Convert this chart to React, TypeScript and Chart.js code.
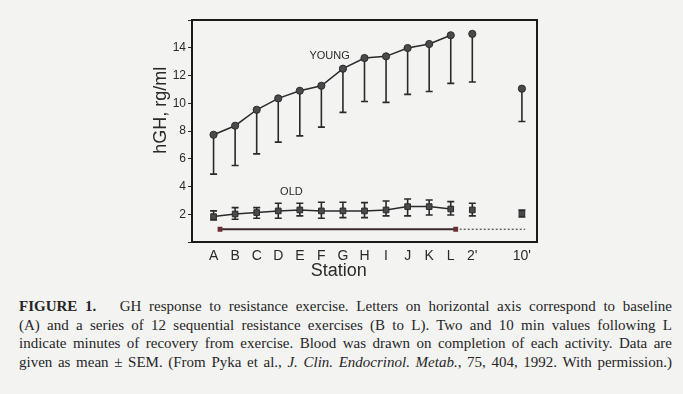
import React, { useEffect, useRef } from 'react';
import { Chart, registerables } from 'chart.js';

Chart.register(...registerables);

// ---- data ----
const stations = ['A', 'B', 'C', 'D', 'E', 'F', 'G', 'H', 'I', 'J', 'K', 'L', "2'", "10'"];
const stationPos = [1, 2, 3, 4, 5, 6, 7, 8, 9, 10, 11, 12, 13, 15.3];
const youngMean = [7.73, 8.38, 9.53, 10.35, 10.9, 11.26, 12.49, 13.26, 13.38, 13.98, 14.27, 14.9, 15.0, 11.05];
const youngLower = [4.89, 5.51, 6.35, 7.2, 7.65, 8.28, 9.34, 10.13, 10.06, 10.64, 10.85, 11.43, 11.53, 8.69];
const oldMean = [1.83, 2.02, 2.12, 2.24, 2.31, 2.24, 2.24, 2.24, 2.31, 2.55, 2.55, 2.38, 2.31, 2.05];
const oldUpper = [2.24, 2.48, 2.48, 2.79, 2.79, 2.87, 2.87, 2.84, 2.96, 3.1, 3.03, 2.91, 2.79, 2.3];
const oldLower = [1.59, 1.64, 1.71, 1.71, 1.88, 1.71, 1.76, 1.76, 1.88, 1.88, 1.95, 1.95, 1.88, 1.8];
const exerciseBarX = [1.3, 12.23];
const recoveryBarX = [12.23, 15.45];
const barLevel = 0.92;
const yTickLabels = [2, 4, 6, 8, 10, 12, 14];

const INK = '#2a2a2a';
const SANS = "'Liberation Sans', Arial, sans-serif";
const N_EX = 12;

const pts = (vals: number[], from: number, to: number) =>
  stationPos.slice(from, to).map((x, i) => ({ x, y: vals[from + i] }));

const decorPlugin = {
  id: 'decor',
  beforeDatasetsDraw(chart: any) {
    const { ctx, scales } = chart;
    const xs = scales.x, ys = scales.y;
    ctx.save();
    ctx.setLineDash([]);
    ctx.strokeStyle = INK;
    ctx.lineWidth = 1.6;
    const cap = 3.5;
    stationPos.forEach((xv, i) => {
      const x = xs.getPixelForValue(xv);
      const y0 = ys.getPixelForValue(youngMean[i]);
      const y1 = ys.getPixelForValue(youngLower[i]);
      ctx.beginPath();
      ctx.moveTo(x, y0); ctx.lineTo(x, y1);
      ctx.moveTo(x - cap, y1); ctx.lineTo(x + cap, y1);
      ctx.stroke();
      const u = ys.getPixelForValue(oldUpper[i]);
      const l = ys.getPixelForValue(oldLower[i]);
      ctx.beginPath();
      ctx.moveTo(x, u); ctx.lineTo(x, l);
      ctx.moveTo(x - cap, u); ctx.lineTo(x + cap, u);
      ctx.moveTo(x - cap, l); ctx.lineTo(x + cap, l);
      ctx.stroke();
    });
    ctx.restore();
  },
  afterDraw(chart: any) {
    const { ctx, scales, chartArea } = chart;
    const xs = scales.x, ys = scales.y;
    ctx.save();
    ctx.setLineDash([]);
    ctx.strokeStyle = '#1a1a1a';
    ctx.lineWidth = 2;
    ctx.strokeRect(chartArea.left, chartArea.top, chartArea.right - chartArea.left, chartArea.bottom - chartArea.top);
    ctx.fillStyle = INK;
    ctx.font = `11px ${SANS}`;
    ctx.textAlign = 'center';
    ctx.textBaseline = 'middle';
    ctx.fillText('YOUNG', xs.getPixelForValue(6.38), ys.getPixelForValue(13.38));
    ctx.fillText('OLD', xs.getPixelForValue(4.61), ys.getPixelForValue(3.59));
    ctx.font = `18px ${SANS}`;
    ctx.fillText('Station', xs.getPixelForValue(6.81), ys.bottom + 29);
    ctx.translate(xs.left - 31, ys.getPixelForValue(9.5));
    ctx.rotate(-Math.PI / 2);
    ctx.fillText('hGH, rg/ml', 0, 0);
    ctx.restore();
  },
};

function App() {
  const ref = useRef<HTMLCanvasElement | null>(null);
  useEffect(() => {
    if (!ref.current) return;
    const chart = new Chart(ref.current, {
      type: 'line',
      data: {
        datasets: [
          {
            data: pts(youngMean, 0, N_EX), showLine: true, borderColor: INK, borderWidth: 1.5,
            pointStyle: 'circle', pointRadius: 3.6, pointBackgroundColor: '#4a4a4a', pointBorderColor: INK, pointBorderWidth: 1,
          },
          {
            data: pts(youngMean, N_EX, stationPos.length), showLine: false,
            pointStyle: 'circle', pointRadius: 3.6, pointBackgroundColor: '#4a4a4a', pointBorderColor: INK, pointBorderWidth: 1,
          },
          {
            data: pts(oldMean, 0, N_EX), showLine: true, borderColor: INK, borderWidth: 1.5,
            pointStyle: 'rect', pointRadius: 4, pointBackgroundColor: '#4a4a4a', pointBorderColor: INK, pointBorderWidth: 1,
          },
          {
            data: pts(oldMean, N_EX, stationPos.length), showLine: false,
            pointStyle: 'rect', pointRadius: 4, pointBackgroundColor: '#4a4a4a', pointBorderColor: INK, pointBorderWidth: 1,
          },
          {
            data: exerciseBarX.map((x) => ({ x, y: barLevel })), showLine: true, borderColor: '#3a2a2c', borderWidth: 2,
            pointStyle: 'rect', pointRadius: 2, pointBackgroundColor: '#6a2f38', pointBorderColor: '#6a2f38',
          },
          {
            data: recoveryBarX.map((x) => ({ x, y: barLevel })), showLine: true, borderColor: INK, borderWidth: 1,
            borderDash: [2, 2], pointRadius: 0,
          },
        ],
      },
      options: {
        animation: false,
        responsive: false,
        maintainAspectRatio: false,
        layout: { padding: { left: 142, right: 146, top: 20, bottom: 8 } },
        plugins: { legend: { display: false }, tooltip: { enabled: false } },
        scales: {
          x: {
            type: 'linear', min: 0, max: 16,
            afterBuildTicks: (s: any) => { s.ticks = stationPos.map((v) => ({ value: v })); },
            afterFit: (s: any) => { s.height = 40; },
            grid: { drawOnChartArea: false, drawTicks: false },
            border: { color: INK, width: 1.5 },
            ticks: {
              autoSkip: false, maxRotation: 0, padding: 6, color: INK,
              font: { family: SANS, size: 14 },
              callback: (v: any) => { const i = stationPos.indexOf(Number(v)); return i >= 0 ? stations[i] : ''; },
            },
          },
          y: {
            type: 'linear', min: 0, max: 16,
            afterFit: (s: any) => { s.width = 50; },
            grid: { drawOnChartArea: false, drawTicks: true, tickLength: 4, color: INK },
            border: { color: INK, width: 1.5 },
            ticks: {
              stepSize: 1, padding: 2, color: INK,
              font: { family: SANS, size: 12 },
              callback: (v: any) => (yTickLabels.includes(Number(v)) ? String(v) : ''),
            },
          },
        },
      },
      plugins: [decorPlugin],
    } as any);
    return () => chart.destroy();
  }, []);

  const lineStyle: React.CSSProperties = {
    whiteSpace: 'nowrap', textAlign: 'justify', textAlignLast: 'justify' as any, height: 18.7,
  };

  return (
    <div style={{ position: 'fixed', left: 0, top: 0, width: 683, height: 394, background: '#f3f3f2', overflow: 'hidden' }}>
      <canvas ref={ref} width={683} height={290} style={{ position: 'absolute', left: 0, top: 0, width: 683, height: 290 }} />
      <div style={{ position: 'absolute', left: 19, top: 297, width: 653, fontFamily: "'Liberation Serif', 'Times New Roman', serif", fontSize: 15, lineHeight: '18.7px', color: '#262626' }}>
        <div style={lineStyle}><b>FIGURE 1.</b>&nbsp;&nbsp; GH response to resistance exercise. Letters on horizontal axis correspond to baseline</div>
        <div style={lineStyle}>(A) and a series of 12 sequential resistance exercises (B to L). Two and 10 min values following L</div>
        <div style={lineStyle}>indicate minutes of recovery from exercise. Blood was drawn on completion of each activity. Data are</div>
        <div style={lineStyle}>given as mean ± SEM. (From Pyka et al., <i>J. Clin. Endocrinol. Metab.</i>, 75, 404, 1992. With permission.)</div>
      </div>
    </div>
  );
}

export default App;
